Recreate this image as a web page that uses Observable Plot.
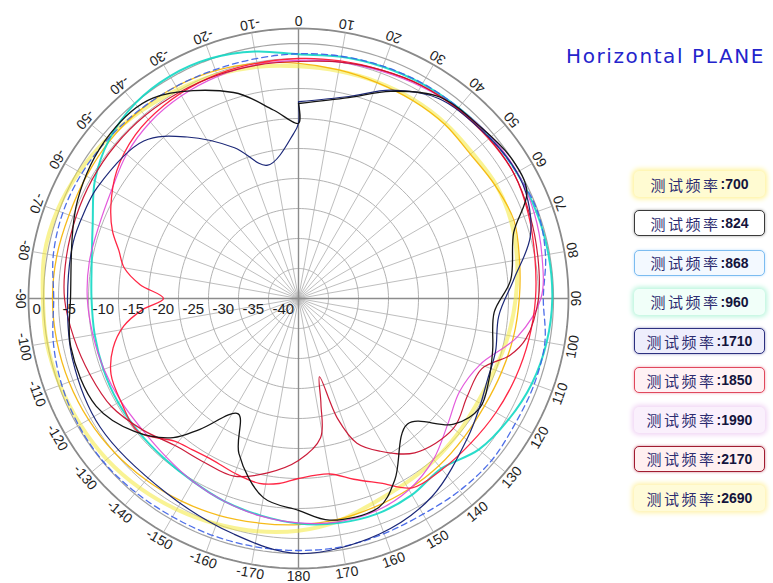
<!DOCTYPE html>
<html><head><meta charset="utf-8">
<script src="https://cdn.jsdelivr.net/npm/d3@7"></script>
<script src="https://cdn.jsdelivr.net/npm/@observablehq/plot@0.6"></script>
<style>
body{margin:0;background:#fff;}
#wrap{position:relative;width:773px;height:583px;overflow:hidden;background:#fff;}
#chart{position:absolute;left:0;top:0;}
#title{position:absolute;left:566px;top:44px;font-family:"DejaVu Sans";font-size:20px;letter-spacing:1.6px;color:#2424cc;white-space:nowrap;}
.lg{position:absolute;left:634px;width:131px;height:26px;border-radius:5px;box-sizing:border-box;display:flex;align-items:center;justify-content:center;white-space:nowrap;}
.lg .c{font-family:"Noto Sans CJK SC";font-size:15px;letter-spacing:2.5px;color:#2c2c70;}
.lg .n{font-family:"Liberation Sans";font-weight:bold;font-size:14px;color:#14143c;}
</style></head>
<body><div id="wrap"><div id="chart"></div><div id="title">Horizontal PLANE</div><div id="legend"></div></div>
<script>
// ---------- data ----------
const angles10 = [0,10,20,30,40,50,60,70,80,90,100,110,120,130,140,150,160,170,180,190,200,210,220,230,240,250,260,270,280,290,300,310,320,330,340,350];
const dbRings = [0,-5,-10,-15,-20,-25,-30,-35,-40];
const innerRing = -2.5;
const spokeAngles = [0,10,20,30,40,50,60,70,80,90,100,110,120,130,140,150,160,170,180,190,200,210,220,230,240,250,260,270,280,290,300,310,320,330,340,350];
const angleLabels = [0,10,20,30,40,50,60,70,80,90,100,110,120,130,140,150,160,170,180,-170,-160,-150,-140,-130,-120,-110,-100,-90,-80,-70,-60,-50,-40,-30,-20,-10];
const freqs = ["700","824","868","960","1710","1850","1990","2170","2690"];

const f700  = [-6.3,-6.5,-6.6,-6.7,-6.9,-7.2,-7.0,-7.3,-8.0,-8.8,-9.5,-10.2,-10.5,-10.2,-9.8,-9.4,-8.7,-7.3,-6.3,-5.6,-5.0,-4.4,-3.8,-3.3,-3.0,-2.7,-2.4,-2.4,-2.0,-2.2,-2.8,-3.5,-4.2,-4.8,-5.3,-5.8];
const f2690 = [-5.8,-6.3,-6.7,-6.9,-7.1,-7.6,-7.2,-6.8,-7.6,-8.2,-8.6,-9.0,-9.2,-9.0,-8.6,-8.3,-8.0,-7.6,-7.3,-7.0,-6.5,-6.0,-5.5,-5.0,-4.6,-4.3,-4.1,-4.0,-4.1,-4.3,-4.2,-4.0,-4.0,-4.2,-4.6,-5.2];
const f960  = [-4.3,-4.1,-3.9,-3.7,-3.5,-3.2,-3.0,-2.8,-2.7,-2.7,-3.0,-3.6,-4.6,-5.8,-8.0,-7.2,-6.8,-7.0,-7.5,-8.3,-9.0,-9.8,-10.2,-10.3,-10.3,-10.4,-10.5,-10.5,-10.0,-8.5,-5.8,-3.8,-2.6,-2.2,-2.4,-3.2];
const f868  = [-4.2,-4.0,-3.8,-3.6,-3.5,-3.3,-3.0,-2.6,-3.2,-4.2,-3.3,-3.2,-3.3,-3.0,-3.2,-3.5,-3.3,-3.0,-3.0,-3.0,-3.0,-3.0,-2.8,-2.6,-2.7,-3.0,-3.5,-4.2,-3.5,-3.2,-3.3,-3.6,-3.9,-4.2,-4.4,-4.4];
const f1990 = [-5.3,-5.0,-4.7,-4.2,-3.6,-3.1,-2.9,-3.2,-3.8,-4.6,-8.0,-12.8,-14.0,-12.5,-10.0,-8.2,-7.3,-7.2,-7.6,-8.2,-9.0,-9.8,-10.6,-11.0,-10.8,-10.5,-10.2,-9.8,-9.6,-9.6,-9.0,-7.6,-6.6,-6.0,-5.6,-5.4];

const a1850 = [0,10,20,30,40,50,60,70,80,90,100,110,120,130,140,149,156,163,170,180,186,192,200,208,215,221,230,240,248,255,261,266,270,275,280,285,290,296,305,315,325,335,345];
const f1850 = [-5.0,-4.8,-4.5,-4.0,-3.8,-3.6,-3.5,-4.2,-5.0,-5.5,-6.0,-6.5,-7.0,-7.5,-7.8,-8.2,-11.3,-13.5,-15.3,-15.0,-14.0,-13.5,-14.0,-14.5,-14.2,-13.5,-10.3,-10.8,-11.3,-13.0,-15.5,-19.0,-22.5,-18.5,-15.5,-14.0,-12.0,-10.2,-8.0,-6.5,-5.8,-5.4,-5.2];

const a2170 = [0,10,20,30,40,50,60,70,80,90,100,105,111,120,130,143,152,158,162,165,168,171,180,190,200,210,220,230,240,250,260,270,280,290,300,310,320,330,340,350];
const f2170 = [-5.5,-5.0,-4.5,-4.0,-3.7,-3.5,-3.5,-4.0,-4.5,-5.0,-6.5,-8.5,-12.3,-12.5,-11.3,-12.8,-16.2,-19.0,-24.0,-31.5,-27.0,-21.5,-18.0,-15.5,-13.5,-13.5,-13.0,-11.0,-9.0,-8.0,-7.0,-6.0,-5.7,-5.5,-5.3,-5.2,-5.2,-5.3,-5.4,-5.5];

const a824 = [0,14,24,35,47,57,65,73,85,94,105,113,121,129,139,152,159,172,180,190,201,207.6,217,222,231,242,258,270,294,311,324,342.5,352.4,360,360];
const f824 = [-12.5,-10.5,-7.2,-4.0,-3.3,-2.5,-3.0,-7.5,-9.5,-12.3,-11.5,-10.5,-9.7,-11.7,-17.3,-10.8,-7.7,-7.7,-9.7,-11.3,-17.3,-23.3,-17.7,-13.8,-9.8,-6.8,-6.2,-7.0,-4.7,-3.3,-3.7,-9.0,-13.3,-15.8,-12.5];

const a1710 = [0,14,24,35,47,57,65,75,85,95,105,113.5,121,129.4,146,161,180,195.5,214,237,255,270,284,292,299,315.5,325.4,337,347,358.3,360,360];
const f1710 = [-12.2,-10.3,-7.0,-4.3,-3.6,-3.0,-3.2,-5.0,-9.0,-11.5,-11.0,-10.7,-9.8,-8.5,-5.2,-3.5,-2.5,-4.3,-5.8,-5.6,-6.0,-6.5,-6.3,-6.5,-6.7,-8.2,-12.3,-17.7,-22.2,-17.5,-15.8,-12.2];

// ---------- geometry helpers ----------
const W = 773, H = 583, CX = 298, CY = 298, PX = 6, FLOOR = 45;
const polar = (deg, db) => { const r = db + FLOOR, t = deg * Math.PI / 180; return {x: r * Math.sin(t), y: r * Math.cos(t)}; };

const series = [
  {name:"700",  ang:angles10, val:f700,  stroke:"#f4ea3c", w:4,   op:0.55, curve:"catmull-rom-closed"},
  {name:"2690", ang:angles10, val:f2690, stroke:"#f5b400", w:1.3, op:0.9,  curve:"catmull-rom-closed"},
  {name:"960",  ang:angles10, val:f960,  stroke:"#12d8c4", w:2,   op:0.9,  curve:"catmull-rom-closed"},
  {name:"868",  ang:angles10, val:f868,  stroke:"#3a5ee6", w:1.3, op:0.9,  curve:"catmull-rom-closed", dash:"6,4"},
  {name:"1990", ang:angles10, val:f1990, stroke:"#e048d8", w:1.2, op:0.9,  curve:"catmull-rom-closed"},
  {name:"1850", ang:a1850,    val:f1850, stroke:"#ff1a3a", w:1.3, op:0.95, curve:"catmull-rom-closed"},
  {name:"2170", ang:a2170,    val:f2170, stroke:"#c8102e", w:1.2, op:0.95, curve:"catmull-rom-closed"},
  {name:"1710", ang:a1710,    val:f1710, stroke:"#1c2878", w:1.2, op:1,    curve:"catmull-rom"},
  {name:"824",  ang:a824,     val:f824,  stroke:"#151515", w:1.3, op:1,    curve:"catmull-rom"}
];

const ringRows = [];
for (const db of [...dbRings, innerRing]) for (let a = 0; a <= 360; a += 2) ringRows.push({db, ...polar(a, db)});

const marks = [
  Plot.line(ringRows.filter(d => d.db < 0 && d.db !== innerRing), {x:"x", y:"y", z:"db", stroke:"#a9a9a9", strokeWidth:0.9}),
  Plot.line(ringRows.filter(d => d.db === innerRing), {x:"x", y:"y", stroke:"#a3a3a3", strokeWidth:1.2}),
  Plot.line(ringRows.filter(d => d.db === 0), {x:"x", y:"y", stroke:"#8a8a8a", strokeWidth:1.8}),
  Plot.link(spokeAngles, {x1:() => 0, y1:() => 0, x2:a => polar(a,0).x, y2:a => polar(a,0).y, stroke:"#adadad", strokeWidth:0.8}),
  Plot.link([0,90,180,270], {x1:() => 0, y1:() => 0, x2:a => polar(a,0).x, y2:a => polar(a,0).y, stroke:"#8c8c8c", strokeWidth:1.4}),
];
for (const s of series) {
  const rows = s.ang.map((a, i) => ({a, db: s.val[i], ...polar(a, s.val[i])}));
  marks.push(Plot.line(rows, {x:"x", y:"y", stroke:s.stroke, strokeWidth:s.w, strokeOpacity:s.op, curve:s.curve, strokeDasharray:s.dash}));
}
marks.push(
  Plot.text(angleLabels, {x:a => polar(a, 1.4).x, y:a => polar(a, 1.4).y, text:a => String(a), rotate:a => a + 180,
    fontSize:14, fontFamily:"Liberation Sans", fill:"#1e1e1e", textAnchor:"middle", lineAnchor:"middle"}),
  Plot.text(dbRings, {x:d => -(d + FLOOR), y:() => 0, text:d => String(d), dx:4, dy:11, textAnchor:"start",
    fontSize:15, fontFamily:"Liberation Sans", fill:"#1e1e1e", lineAnchor:"middle"})
);

const chart = Plot.plot({
  width: W, height: H, margin: 0,
  style: {background: "transparent", overflow: "visible"},
  x: {axis: null, domain: [-CX / PX, (W - CX) / PX], range: [0, W]},
  y: {axis: null, domain: [-(H - CY) / PX, CY / PX], range: [H, 0]},
  marks
});
document.getElementById("chart").append(chart);

// ---------- legend ----------
const boxStyles = {
  "700":  "background:#fffbd2;box-shadow:0 0 5px 2px #fff39a;",
  "824":  "background:#ffffff;border:1.5px solid #3a3a3a;box-shadow:0 0 3px #999;",
  "868":  "background:#f3f9ff;border:1px solid #7cbcf0;box-shadow:0 0 3px #bfe0ff;",
  "960":  "background:#f1fff9;box-shadow:0 0 5px 2px #b8f5dc;",
  "1710": "background:#eeeefc;border:1.5px solid #2c3080;box-shadow:0 0 3px #9090c0;",
  "1850": "background:#fff1f4;border:1px solid #e0485c;box-shadow:0 0 3px #f0a0b0;",
  "1990": "background:#faf0fc;box-shadow:0 0 5px 2px #f0d4f4;",
  "2170": "background:#fff0f0;border:1.5px solid #a01c30;box-shadow:0 0 3px #d08090;",
  "2690": "background:#fffbd8;box-shadow:0 0 5px 2px #fff2a8;"
};
const lg = document.getElementById("legend");
freqs.forEach((f, i) => {
  const d = document.createElement("div");
  d.className = "lg";
  d.style.cssText = "top:" + (171 + i * 39.25) + "px;" + boxStyles[f];
  d.innerHTML = '<span class="c">测试频率</span><span class="n">:' + f + '</span>';
  lg.append(d);
});
</script></body></html>
